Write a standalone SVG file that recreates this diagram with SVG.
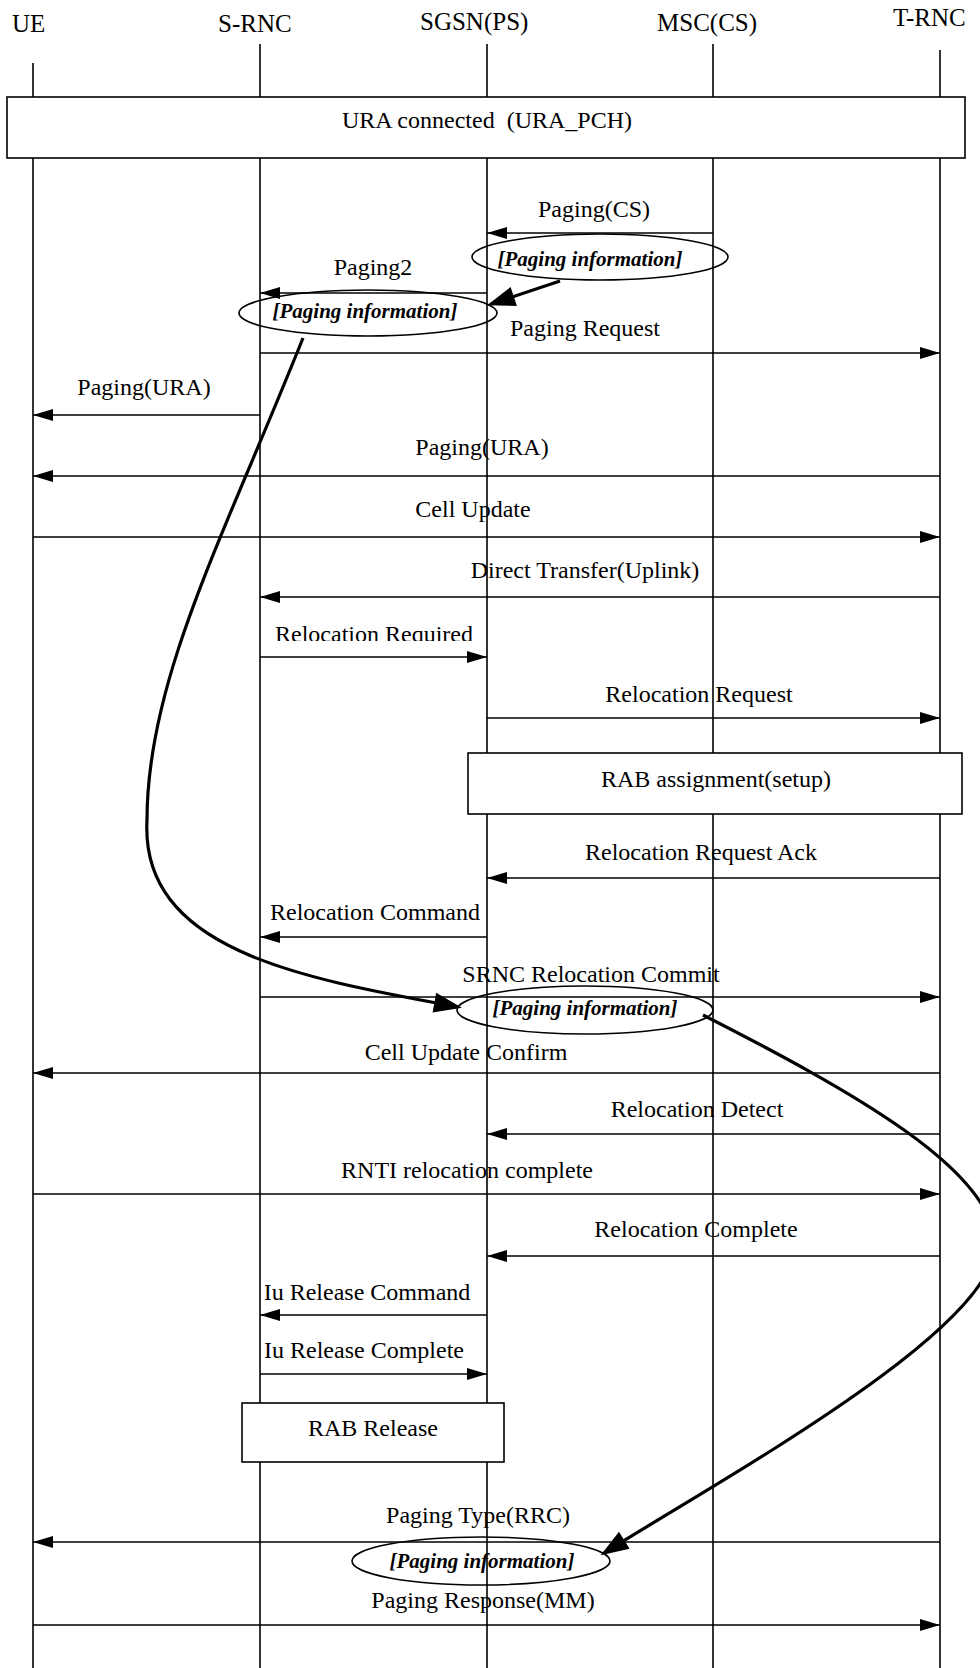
<svg xmlns="http://www.w3.org/2000/svg" width="980" height="1668" viewBox="0 0 980 1668">
<style>
text{font-family:"Liberation Serif","Times New Roman",serif;fill:#000}
.hdr{font-size:25px}
.lbl{font-size:24px;text-anchor:middle}
.pi{font-size:21px;font-weight:bold;font-style:italic;text-anchor:middle}
.life{stroke:#000;stroke-width:1.6;fill:none}
.msg{stroke:#000;stroke-width:1.6;fill:none;marker-end:url(#ah)}
.box{fill:#fff;stroke:#000;stroke-width:1.6}
.ell{fill:none;stroke:#000;stroke-width:1.6}
.thick{fill:none;stroke:#000;stroke-width:3.2;marker-end:url(#big)}
</style>
<defs>
<marker id="ah" markerUnits="userSpaceOnUse" markerWidth="20" markerHeight="12" refX="20" refY="6" orient="auto" overflow="visible">
<path d="M0,0 L20,6 L0,12 z" fill="#000"/>
</marker>
<marker id="big" markerUnits="userSpaceOnUse" markerWidth="28" markerHeight="20" refX="24" refY="10" orient="auto" overflow="visible">
<path d="M0,0 L28,10 L0,20 z" fill="#000"/>
</marker>
<clipPath id="cutReq"><rect x="200" y="600" width="320" height="41"/></clipPath>
</defs>
<rect x="0" y="0" width="980" height="1668" fill="#fff"/>

<g id="lifelines">
<g id="UE"><text class="hdr" x="12" y="32">UE</text><line class="life" x1="33" y1="63" x2="33" y2="1668"/></g>
<g id="S-RNC"><text class="hdr" x="218" y="32">S-RNC</text><line class="life" x1="260" y1="44" x2="260" y2="1668"/></g>
<g id="SGSN"><text class="hdr" x="420" y="30">SGSN(PS)</text><line class="life" x1="487" y1="44" x2="487" y2="1668"/></g>
<g id="MSC"><text class="hdr" x="657" y="31">MSC(CS)</text><line class="life" x1="713" y1="44" x2="713" y2="1668"/></g>
<g id="T-RNC"><text class="hdr" x="893" y="26">T-RNC</text><line class="life" x1="940" y1="50" x2="940" y2="1668"/></g>
</g>

<g id="ura-box"><rect class="box" x="7" y="97" width="958" height="61"/><text class="lbl" x="487" y="128" xml:space="preserve">URA connected  (URA_PCH)</text></g>
<g id="rab-assign"><rect class="box" x="468" y="753" width="494" height="61"/><text class="lbl" x="716" y="787">RAB assignment(setup)</text></g>
<g id="rab-release"><rect class="box" x="242" y="1403" width="262" height="59"/><text class="lbl" x="373" y="1436">RAB Release</text></g>

<g id="connectors">
<line class="msg" x1="713" y1="233" x2="487" y2="233"/>
<line class="msg" x1="487" y1="293" x2="260" y2="293"/>
<line class="msg" x1="260" y1="353" x2="940" y2="353"/>
<line class="msg" x1="260" y1="415" x2="33" y2="415"/>
<line class="msg" x1="940" y1="476" x2="33" y2="476"/>
<line class="msg" x1="33" y1="537" x2="940" y2="537"/>
<line class="msg" x1="940" y1="597" x2="260" y2="597"/>
<line class="msg" x1="260" y1="657" x2="487" y2="657"/>
<line class="msg" x1="487" y1="718" x2="940" y2="718"/>
<line class="msg" x1="940" y1="878" x2="487" y2="878"/>
<line class="msg" x1="487" y1="937" x2="260" y2="937"/>
<line class="msg" x1="260" y1="997" x2="940" y2="997"/>
<line class="msg" x1="940" y1="1073" x2="33" y2="1073"/>
<line class="msg" x1="940" y1="1134" x2="487" y2="1134"/>
<line class="msg" x1="33" y1="1194" x2="940" y2="1194"/>
<line class="msg" x1="940" y1="1256" x2="487" y2="1256"/>
<line class="msg" x1="487" y1="1315" x2="260" y2="1315"/>
<line class="msg" x1="260" y1="1374" x2="487" y2="1374"/>
<line class="msg" x1="940" y1="1542" x2="33" y2="1542"/>
<line class="msg" x1="33" y1="1625" x2="940" y2="1625"/>
<path class="thick" d="M560,281 L491,304"/>
<path class="thick" d="M303,338 C223,538 147,680 147,820 C140,950 300,978 458,1007"/>
<path class="thick" d="M703,1015 C850,1090 995,1170 995,1245 C995,1330 720,1480 604,1553"/>
</g>

<g id="labels">
<text class="lbl" x="594" y="217">Paging(CS)</text>
<text class="lbl" x="373" y="275">Paging2</text>
<text class="lbl" x="585" y="336">Paging Request</text>
<text class="lbl" x="144" y="395">Paging(URA)</text>
<text class="lbl" x="482" y="455">Paging(URA)</text>
<text class="lbl" x="473" y="517">Cell Update</text>
<text class="lbl" x="585" y="578">Direct Transfer(Uplink)</text>
<text class="lbl" x="374" y="642" clip-path="url(#cutReq)">Relocation Required</text>
<text class="lbl" x="699" y="702">Relocation Request</text>
<text class="lbl" x="701" y="860">Relocation Request Ack</text>
<text class="lbl" x="375" y="920">Relocation Command</text>
<text class="lbl" x="591" y="982">SRNC Relocation Commit</text>
<text class="lbl" x="466" y="1060">Cell Update Confirm</text>
<text class="lbl" x="697" y="1117">Relocation Detect</text>
<text class="lbl" x="467" y="1178">RNTI relocation complete</text>
<text class="lbl" x="696" y="1237">Relocation Complete</text>
<text class="lbl" x="367" y="1300">Iu Release Command</text>
<text class="lbl" x="364" y="1358">Iu Release Complete</text>
<text class="lbl" x="478" y="1523">Paging Type(RRC)</text>
<text class="lbl" x="483" y="1608">Paging Response(MM)</text>
</g>

<g id="pi1"><ellipse class="ell" cx="600" cy="257" rx="128" ry="23"/><text class="pi" x="590" y="266">[Paging information]</text></g>
<g id="pi2"><ellipse class="ell" cx="368" cy="313" rx="129" ry="23"/><text class="pi" x="365" y="318">[Paging information]</text></g>
<g id="pi3"><ellipse class="ell" cx="585" cy="1010" rx="128" ry="24"/><text class="pi" x="585" y="1015">[Paging information]</text></g>
<g id="pi4"><ellipse class="ell" cx="481" cy="1561" rx="129" ry="24"/><text class="pi" x="482" y="1568">[Paging information]</text></g>
</svg>
